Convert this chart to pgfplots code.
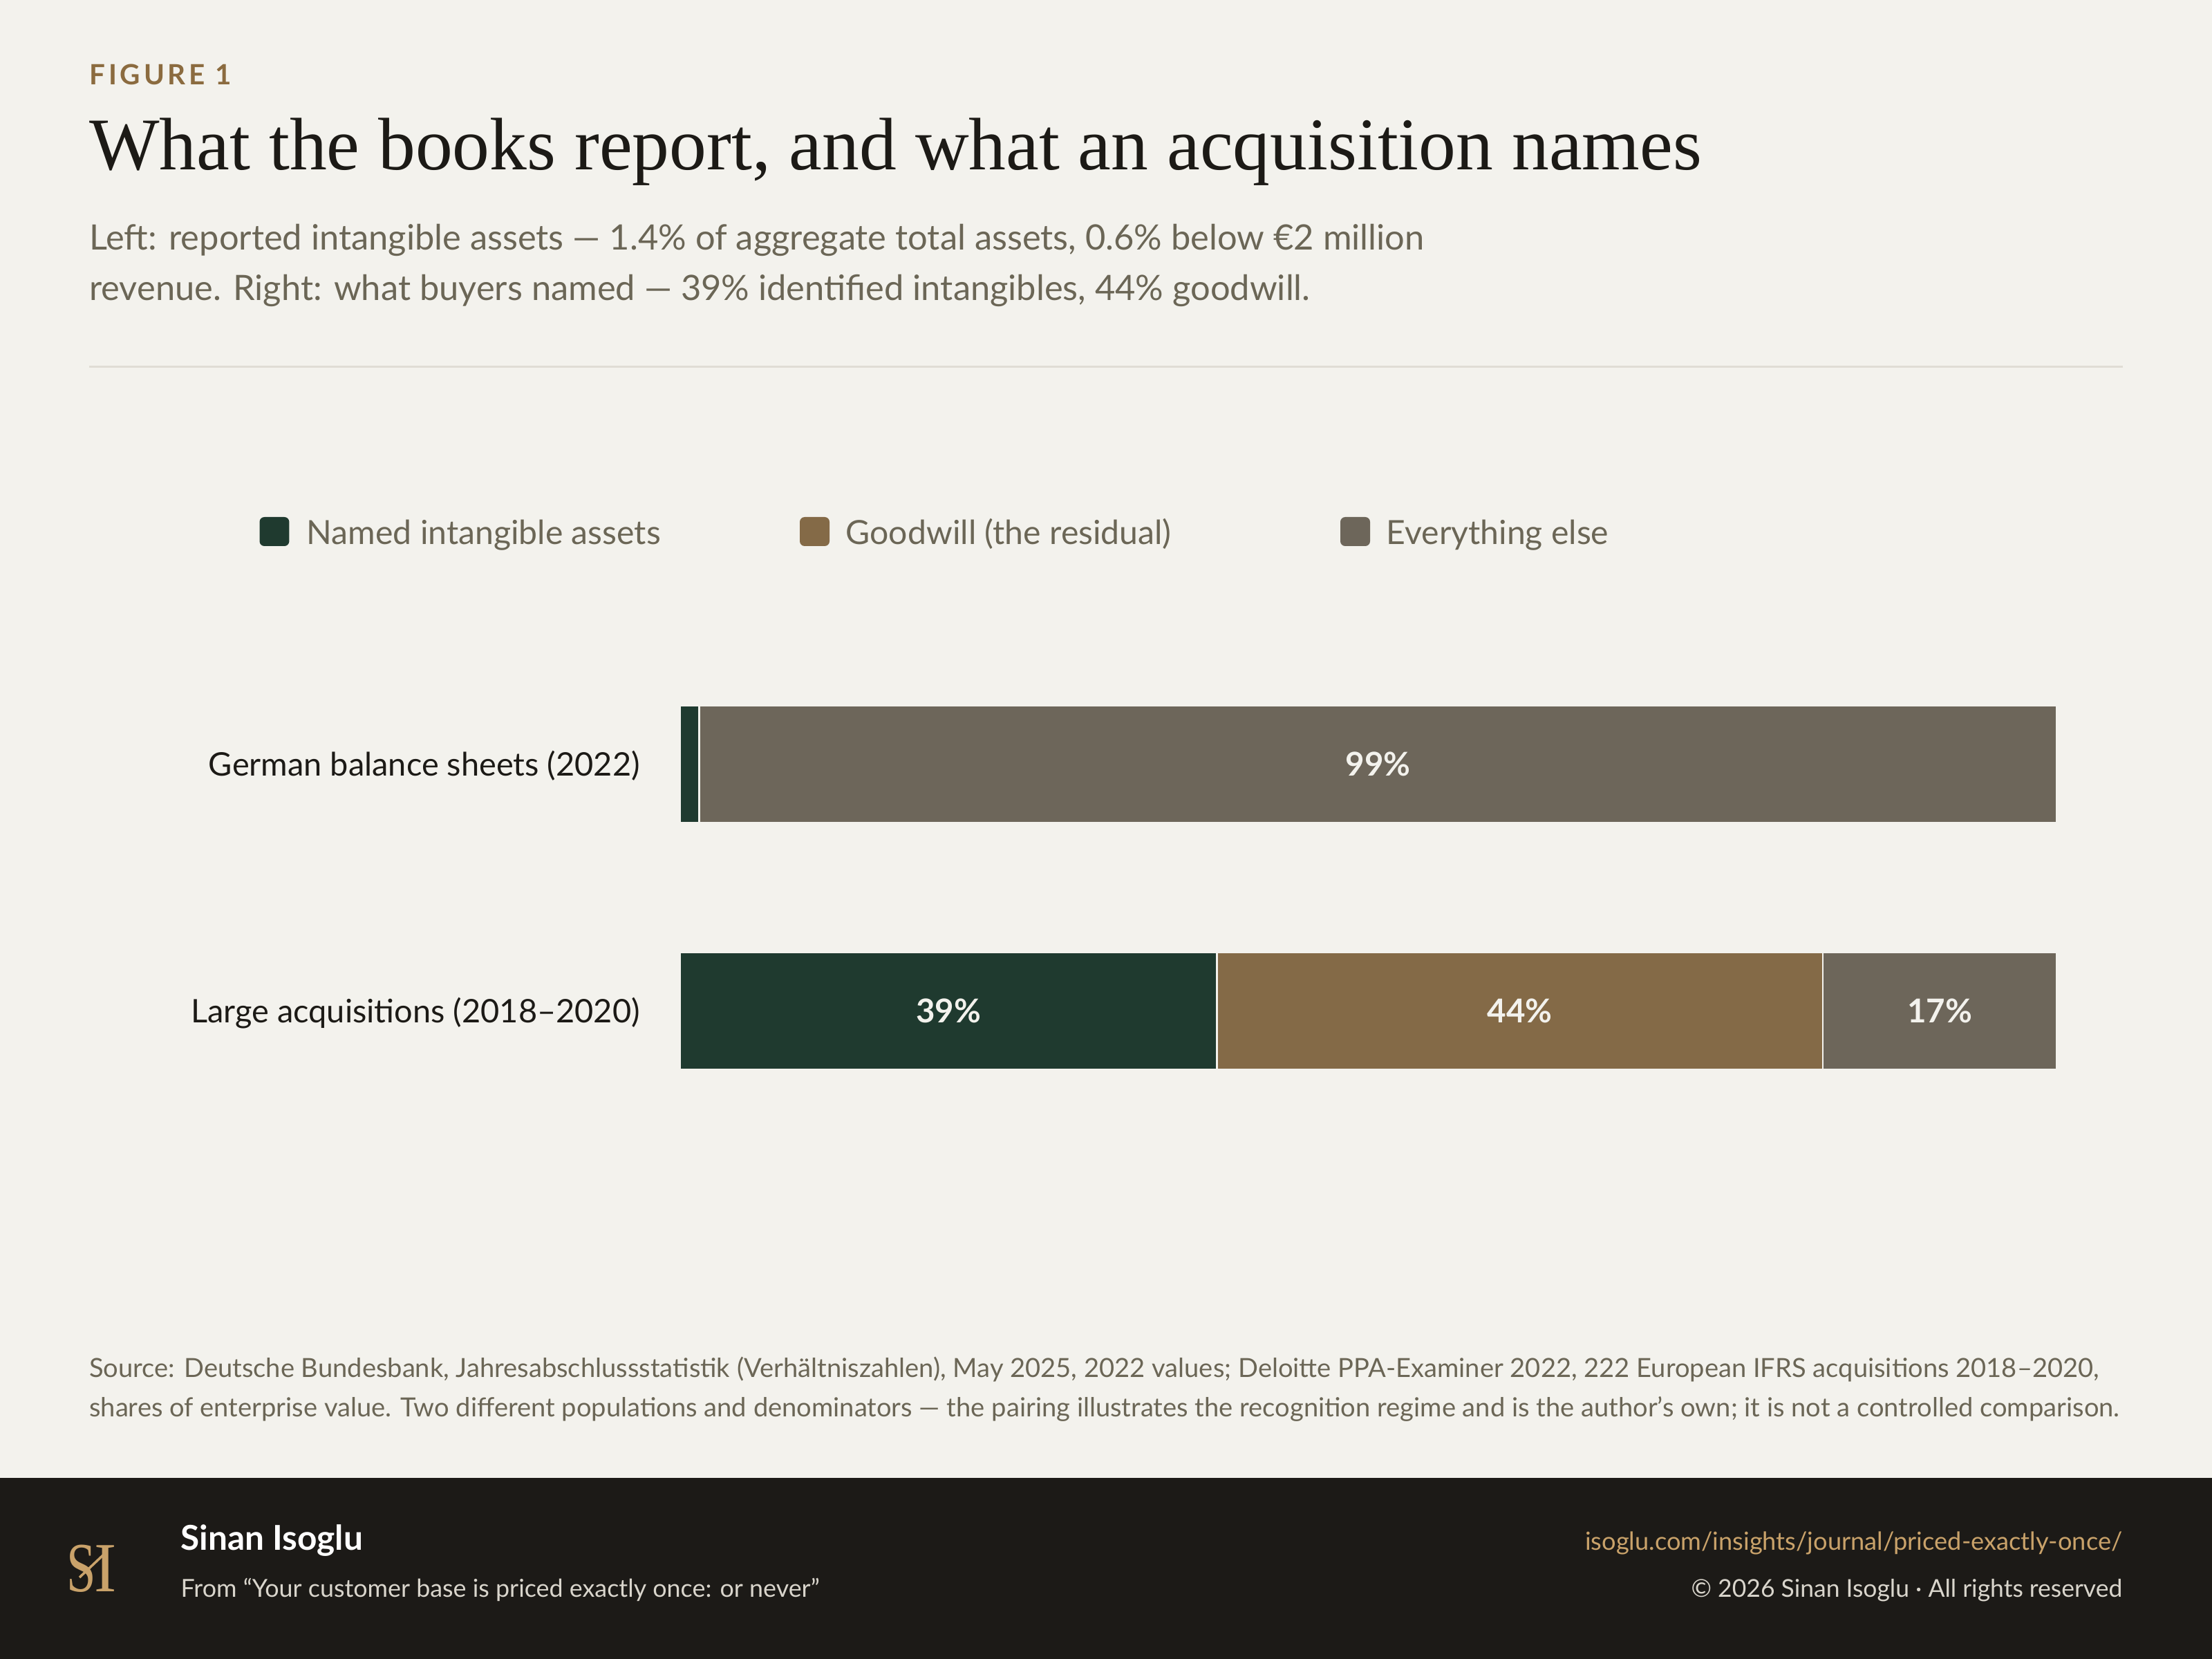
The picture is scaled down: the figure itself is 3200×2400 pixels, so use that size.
\documentclass[border=0pt]{standalone}
\usepackage{pgfplots}
\pgfplotsset{compat=1.18}
\usepackage{fontspec}
\setmainfont{Lato}
\newfontfamily\titlefont{Liberation Serif}
\definecolor{bg}{HTML}{F3F2ED}
\definecolor{cgreen}{HTML}{1F3A2F}
\definecolor{cbrown}{HTML}{846A47}
\definecolor{cgray}{HTML}{6D665A}
\definecolor{figgold}{HTML}{8B6B3F}
\definecolor{subgray}{HTML}{6B6656}
\definecolor{ink}{HTML}{1C1A16}
\definecolor{rule}{HTML}{E0DDD5}
\definecolor{footbg}{HTML}{1C1A17}
\definecolor{footgold}{HTML}{C9A26A}
\definecolor{footlight}{HTML}{D9D5CC}
\pgfplotstableread{
x y
1.4 1
39  0
}\named
\pgfplotstableread{
x y
0  1
44 0
}\goodwill
\pgfplotstableread{
x y
98.6 1
17   0
}\rest
\pgfplotstableread{
x y lab
50.7 1 99\%
19.5 0 39\%
61   0 44\%
91.5 0 17\%
}\labels
\begin{document}
\begin{tikzpicture}
\begin{scope}[x=0.1mm,y=-0.1mm]
\fill[bg] (0,0) rectangle (3200,2400);
\node[anchor=base west,inner sep=0,text=figgold,font=\fontsize{11.5}{13}\selectfont\bfseries\addfontfeatures{LetterSpace=12}] at (128.6,122.5) {FIGURE 1};
\node[anchor=base west,inner sep=0,text=ink,font=\titlefont\fontsize{30.6}{36}\selectfont] at (128.6,246) {What the books report, and what an acquisition names};
\node[anchor=base west,inner sep=0,text=subgray,font=\fontsize{14.4}{16}\selectfont] at (128.6,362) {Left: reported intangible assets — 1.4\% of aggregate total assets, 0.6\% below €2 million};
\node[anchor=base west,inner sep=0,text=subgray,font=\fontsize{14.4}{16}\selectfont] at (128.6,435) {revenue. Right: what buyers named — 39\% identified intangibles, 44\% goodwill.};
\draw[rule,line width=0.25mm] (128.6,530.6) -- (3071,530.6);
% legend
\fill[cgreen,rounded corners=0.7mm] (375.5,748) rectangle (418.4,790);
\node[anchor=base west,inner sep=0,text=subgray,font=\fontsize{13.7}{16}\selectfont] at (443,787) {Named intangible assets};
\fill[cbrown,rounded corners=0.7mm] (1157,748) rectangle (1200,790);
\node[anchor=base west,inner sep=0,text=subgray,font=\fontsize{13.7}{16}\selectfont] at (1223,787) {Goodwill (the residual)};
\fill[cgray,rounded corners=0.7mm] (1939,748) rectangle (1982,790);
\node[anchor=base west,inner sep=0,text=subgray,font=\fontsize{13.7}{16}\selectfont] at (2005,787) {Everything else};
% category labels
\node[anchor=base east,inner sep=0,text=ink,font=\fontsize{13.35}{16}\selectfont] at (926.5,1122) {German balance sheets (2022)};
\node[anchor=base east,inner sep=0,text=ink,font=\fontsize{13.35}{16}\selectfont] at (926.5,1479) {Large acquisitions (2018–2020)};
% source
\node[anchor=base west,inner sep=0,text=subgray,font=\fontsize{10.84}{12}\selectfont] at (128.6,1992) {Source: Deutsche Bundesbank, Jahresabschlussstatistik (Verhältniszahlen), May 2025, 2022 values; Deloitte PPA-Examiner 2022, 222 European IFRS acquisitions 2018–2020,};
\node[anchor=base west,inner sep=0,text=subgray,font=\fontsize{10.84}{12}\selectfont] at (128.6,2049) {shares of enterprise value. Two different populations and denominators — the pairing illustrates the recognition regime and is the author’s own; it is not a controlled comparison.};
% footer
\fill[footbg] (0,2138) rectangle (3200,2400);
\node[anchor=base,inner sep=0,text=footgold,font=\titlefont\fontsize{29}{30}\selectfont,xscale=0.75] at (117.5,2302) {S};
\node[anchor=base,inner sep=0,text=footgold,font=\titlefont\fontsize{29}{30}\selectfont,xscale=0.95] at (153,2302) {I};
\draw[footgold,line width=0.35mm] (115,2282) -- (152,2247);
\node[anchor=base west,inner sep=0,text=white,font=\fontsize{14.1}{15}\selectfont\bfseries] at (261,2242) {Sinan Isoglu};
\node[anchor=base west,inner sep=0,text=footlight,font=\fontsize{10.2}{12}\selectfont] at (261,2310) {From “Your customer base is priced exactly once: or never”};
\node[anchor=base east,inner sep=0,text=footgold,font=\fontsize{10.3}{12}\selectfont] at (3071,2242) {isoglu.com/insights/journal/priced-exactly-once/};
\node[anchor=base east,inner sep=0,text=footlight,font=\fontsize{10.1}{12}\selectfont] at (3071,2310) {© 2026 Sinan Isoglu · All rights reserved};
\end{scope}
\begin{axis}[at={(98.37mm,-164.09mm)},anchor=south west,scale only axis,
  width=199.18mm,height=71.44mm,xmin=0,xmax=100,ymin=-0.5,ymax=1.5,
  hide axis,xbar stacked,bar width=16.94mm,clip=false]
\addplot[fill=cgreen,draw=bg,line width=0.25mm] table[x=x,y=y] {\named};
\addplot[fill=cbrown,draw=bg,line width=0.25mm] table[x=x,y=y] {\goodwill};
\addplot[fill=cgray,draw=bg,line width=0.25mm] table[x=x,y=y] {\rest};
\end{axis}
\begin{axis}[at={(98.37mm,-164.09mm)},anchor=south west,scale only axis,
  width=199.18mm,height=71.44mm,xmin=0,xmax=100,ymin=-0.5,ymax=1.5,
  hide axis,clip=false]
\addplot[only marks,mark=*,mark size=0pt,mark options={draw=none,fill=none},
  nodes near coords,point meta=explicit symbolic,
  every node near coord/.style={anchor=center,inner sep=0,text=bg,font=\fontsize{13.5}{15}\selectfont\bfseries}]
  table[x=x,y=y,meta=lab] {\labels};
\end{axis}
\end{tikzpicture}
\end{document}
